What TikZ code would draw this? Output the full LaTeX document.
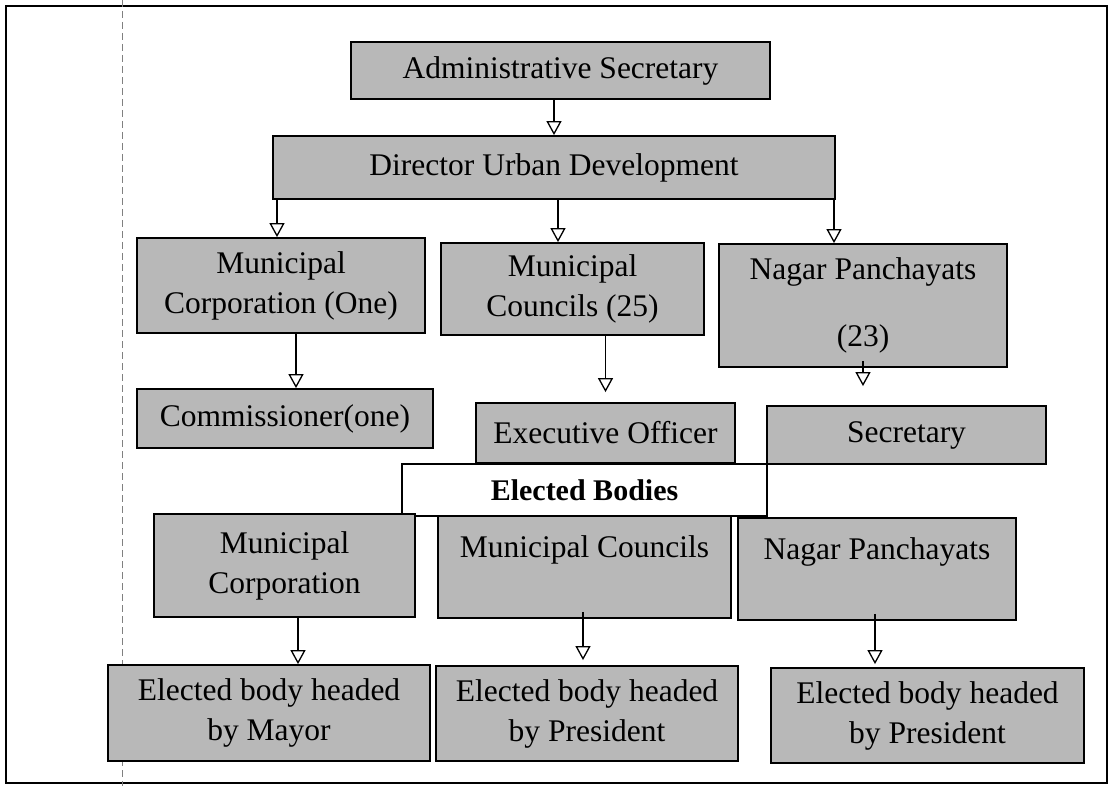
\documentclass[tikz,border=0pt]{standalone}
\usepackage{fontspec}
\setmainfont{Liberation Serif}
\usetikzlibrary{arrows.meta,calc}
\definecolor{boxgray}{gray}{0.72}
\begin{document}
\begin{tikzpicture}[x=1pt,y=-1pt,
  box/.style={draw=black, line width=1.8pt, fill=boxgray, inner sep=0pt, align=center,
    font=\fontsize{31.5}{40}\selectfont},
  whitebox/.style={box, fill=white, font=\bfseries\fontsize{30}{36}\selectfont},
  arr/.style={draw=black, line width=1.8pt,
    -{Triangle[open, fill=white, length=14pt, width=15pt, line width=1.3pt]}},
  frame/.style={draw=black, line width=1.6pt},
  margin/.style={draw=gray, line width=0.7pt, dash pattern=on 7pt off 4pt}]
\useasboundingbox (0,0) rectangle (1111,786);
\fill[white] (0,0) rectangle (1111,786);
\draw[frame] (6,6) rectangle (1107,783);
\draw[margin] (122,0) -- (122,786);

% top rows
\node[box, minimum width=419pt, minimum height=57pt] (admin) at (560.5,70.5) {Administrative Secretary};
\node[box, minimum width=562pt, minimum height=63pt] (dir) at (554,167.5) {Director Urban Development};
\node[box, minimum width=288pt, minimum height=95pt] (mc1) at (281,285.5) {Municipal\\Corporation (One)};
\node[box, minimum width=263pt, minimum height=92pt] (mco1) at (572.5,289) {Municipal\\Councils (25)};
\node[box, minimum width=288pt, minimum height=123pt] (np1) at (863,305.5) {Nagar Panchayats\\[27pt](23)};
\node[box, minimum width=296pt, minimum height=59pt] (comm) at (285,418.5) {Commissioner(one)};
\node[box, minimum width=259pt, minimum height=60pt] (exec) at (605.5,433) {Executive Officer};
\node[box, minimum width=279pt, minimum height=58pt] (sec) at (906.5,435) {Secretary};

% elected bodies
\node[whitebox, line width=1.4pt, minimum width=365pt, minimum height=52pt] (eb) at (584.5,490) {Elected Bodies};
\node[box, minimum width=261pt, minimum height=103pt] (mcorp2) at (284.5,565.5) {Municipal\\Corporation};
\node[box, minimum width=293pt, minimum height=102pt] (mco2) at (584.5,567) {Municipal Councils\\\mbox{}};
\node[box, minimum width=278pt, minimum height=102pt] (np2) at (877,569) {Nagar Panchayats\\\mbox{}};
\node[box, minimum width=322pt, minimum height=96pt] (mayor) at (269,713) {Elected body headed\\by Mayor};
\node[box, minimum width=302pt, minimum height=95pt] (pres1) at (587,713.5) {Elected body headed\\by President};
\node[box, minimum width=313pt, minimum height=95pt] (pres2) at (927.5,715.5) {Elected body headed\\by President};

% connectors
\draw[arr] (admin.south -| dir.north) -- (dir.north);
\draw[arr] ($(dir.south -| mc1.north)+(-4,0)$) -- ($(mc1.north)+(-4,0)$);
\draw[arr] ($(dir.south -| mco1.north)+(-14.5,0)$) -- ($(mco1.north)+(-14.5,0)$);
\draw[arr] ($(dir.south -| np1.north)+(-29,0)$) -- ($(np1.north)+(-29,0)$);
\draw[arr] ($(mc1.south)+(15,0)$) -- ($(comm.north -| mc1.south)+(15,0)$);
\draw[arr] (mco1.south -| exec.north) -- ($(exec.north)+(0,-10)$);
\draw[arr] ($(np1.south)+(0,-7)$) -- ($(sec.north -| np1.south)+(0,-19)$);
\draw[arr] ($(mcorp2.south)+(13.5,0)$) -- ($(mayor.north -| mcorp2.south)+(13.5,0)$);
\draw[arr] ($(mco2.south)+(-1.5,-7)$) -- ($(pres1.north -| mco2.south)+(-1.5,-5)$);
\draw[arr] ($(np2.south)+(-2,-7)$) -- ($(pres2.north -| np2.south)+(-2,-3)$);
\end{tikzpicture}
\end{document}
